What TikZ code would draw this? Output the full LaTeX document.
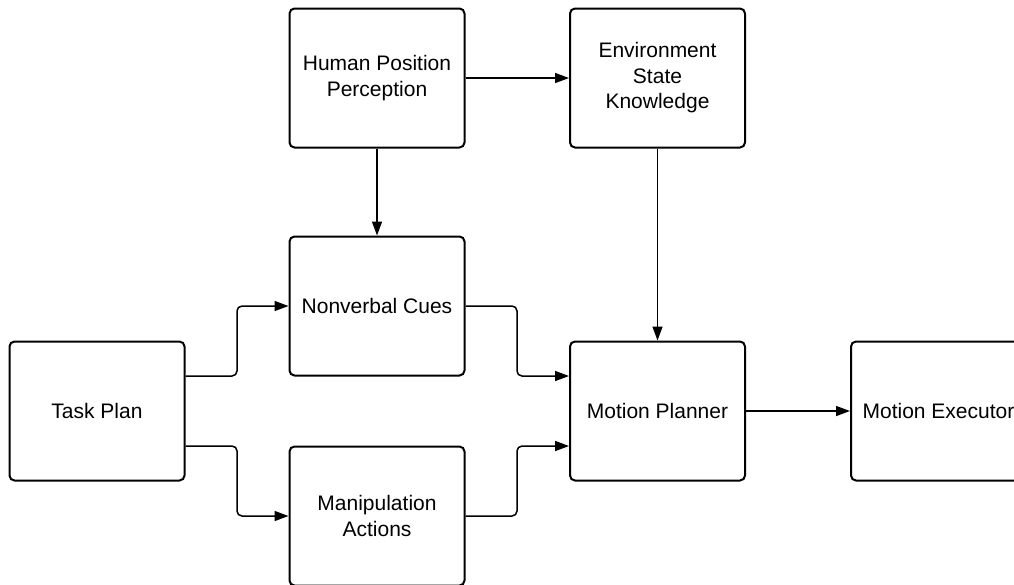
\documentclass[tikz,border=0pt]{standalone}
\usepackage{fontspec}
\setmainfont{Liberation Sans}
\usetikzlibrary{arrows.meta}
\begin{document}
\begin{tikzpicture}[x=1pt,y=-1pt,
  box/.style={draw,line width=2pt,rounded corners=5pt,minimum width=175pt,minimum height=139pt,align=center,font=\fontsize{21}{25.5}\selectfont,inner sep=0pt},
  conn/.style={line width=1.5pt,rounded corners=5pt,-{Triangle[length=14pt,width=10pt]}}]
\useasboundingbox (0,0) rectangle (1014,584);
\node[box] (tp) at (97,411) {Task Plan};
\node[box] (hpp) at (377,78) {Human Position\\Perception};
\node[box] (esk) at (657.5,78) {Environment\\State\\Knowledge};
\node[box] (nc) at (377,306) {Nonverbal Cues};
\node[box] (ma) at (377,516) {Manipulation\\Actions};
\node[box] (mp) at (657.5,411) {Motion Planner};
\node[box,anchor=west] (me) at (850,411) {Motion Executor};
\draw[conn] (tp.east |- 0,376) -| (237,341) |- (nc.west);
\draw[conn] (tp.east |- 0,446) -| (237,481) |- (ma.west);
\draw[conn] (nc.east) -| (517,341) |- (mp.west |- 0,376);
\draw[conn] (ma.east) -| (517,481) |- (mp.west |- 0,446);
\draw[conn] (hpp.south) -- (nc.north);
\draw[conn] (hpp.east) -- (esk.west);
\draw[conn] (esk.south) -- (mp.north);
\draw[conn] (mp.east) -- (me.west);
\end{tikzpicture}
\end{document}
